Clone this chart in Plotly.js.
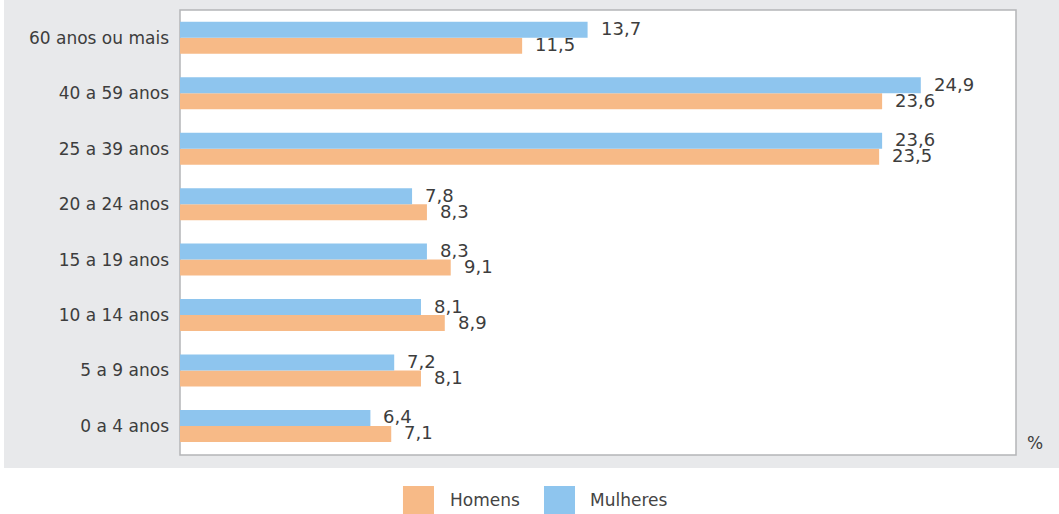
<!DOCTYPE html>
<html>
<head>
<meta charset="utf-8">
<script src="https://cdn.plot.ly/plotly-3.0.1.min.js"></script>
<style>html,body{margin:0;padding:0;background:#fff;}#chart{width:1059px;height:514px;}</style>
</head>
<body>
<div id="chart"></div>
<script>
// Categories (bottom to top)
var categories = ["0 a 4 anos", "5 a 9 anos", "10 a 14 anos", "15 a 19 anos", "20 a 24 anos", "25 a 39 anos", "40 a 59 anos", "60 anos ou mais"];
var seriesNames = ["Homens", "Mulheres"];
var homens = [7.1, 8.1, 8.9, 9.1, 8.3, 23.5, 23.6, 11.5];
var mulheres = [6.4, 7.2, 8.1, 8.3, 7.8, 23.6, 24.9, 13.7];
var unitLabel = "%";

var colors = ["#F7BA87", "#8EC5EE"];
var FONT = "DejaVu Sans, sans-serif";
var TXT = "#3d3d3d";

function fmt(v) { return v.toFixed(1).replace(".", ","); }

var traces = [
  {type: "bar", orientation: "h", name: seriesNames[0], x: homens, y: categories,
   marker: {color: colors[0]}, showlegend: false, hoverinfo: "x+y"},
  {type: "bar", orientation: "h", name: seriesNames[1], x: mulheres, y: categories,
   marker: {color: colors[1]}, showlegend: false, hoverinfo: "x+y"}
];

var annotations = [];
categories.forEach(function (c, i) {
  annotations.push({x: homens[i], y: c, xref: "x", yref: "y", text: fmt(homens[i]),
    showarrow: false, xanchor: "left", yanchor: "middle", xshift: 11, yshift: -7,
    font: {family: FONT, size: 18, color: TXT}});
  annotations.push({x: mulheres[i], y: c, xref: "x", yref: "y", text: fmt(mulheres[i]),
    showarrow: false, xanchor: "left", yanchor: "middle", xshift: 11, yshift: 9,
    font: {family: FONT, size: 18, color: TXT}});
});
// unit label
annotations.push({x: 1.0227, y: 0.027, xref: "paper", yref: "paper", text: unitLabel,
  showarrow: false, xanchor: "center", yanchor: "middle",
  font: {family: FONT, size: 17, color: TXT}});
// legend labels
annotations.push({x: 0.3206, y: -0.1011, xref: "paper", yref: "paper", text: seriesNames[0],
  showarrow: false, xanchor: "left", yanchor: "middle",
  font: {family: FONT, size: 17, color: "#444"}});
annotations.push({x: 0.488, y: -0.1011, xref: "paper", yref: "paper", text: seriesNames[1],
  showarrow: false, xanchor: "left", yanchor: "middle",
  font: {family: FONT, size: 17, color: "#444"}});

var shapes = [
  // grey panel background
  {type: "rect", xref: "paper", yref: "paper", x0: -0.2105, x1: 1.06, y0: -0.0292, y1: 1.03,
   fillcolor: "#E8E9EB", line: {width: 0}, layer: "below"},
  // white plot box
  {type: "rect", xref: "paper", yref: "paper", x0: 0, x1: 1, y0: 0, y1: 1,
   fillcolor: "#FFFFFF", line: {color: "#B4B5B8", width: 1.5}, layer: "below"},
  // legend swatches
  {type: "rect", xref: "paper", yref: "paper", x0: 0.2667, x1: 0.3038, y0: -0.1326, y1: -0.0697,
   fillcolor: colors[0], line: {width: 0}},
  {type: "rect", xref: "paper", yref: "paper", x0: 0.4354, x1: 0.4725, y0: -0.1326, y1: -0.0697,
   fillcolor: colors[1], line: {width: 0}}
];

var layout = {
  width: 1059, height: 514,
  margin: {l: 180, r: 43, t: 10, b: 59, pad: 0},
  paper_bgcolor: "#FFFFFF",
  plot_bgcolor: "rgba(0,0,0,0)",
  barmode: "group",
  bargap: 0.423,
  bargroupgap: 0,
  showlegend: false,
  font: {family: FONT, size: 17, color: TXT},
  xaxis: {range: [0, 28.1], showgrid: false, zeroline: false, showticklabels: false,
          showline: false, ticks: "", fixedrange: true},
  yaxis: {type: "category", categoryorder: "array", categoryarray: categories,
          range: [-0.523, 7.5], showgrid: false, zeroline: false, showline: false,
          ticks: "", ticklabelstandoff: 10, tickfont: {family: FONT, size: 17, color: TXT},
          fixedrange: true},
  shapes: shapes,
  annotations: annotations
};

Plotly.newPlot("chart", traces, layout, {displayModeBar: false, staticPlot: true});
</script>
</body>
</html>
